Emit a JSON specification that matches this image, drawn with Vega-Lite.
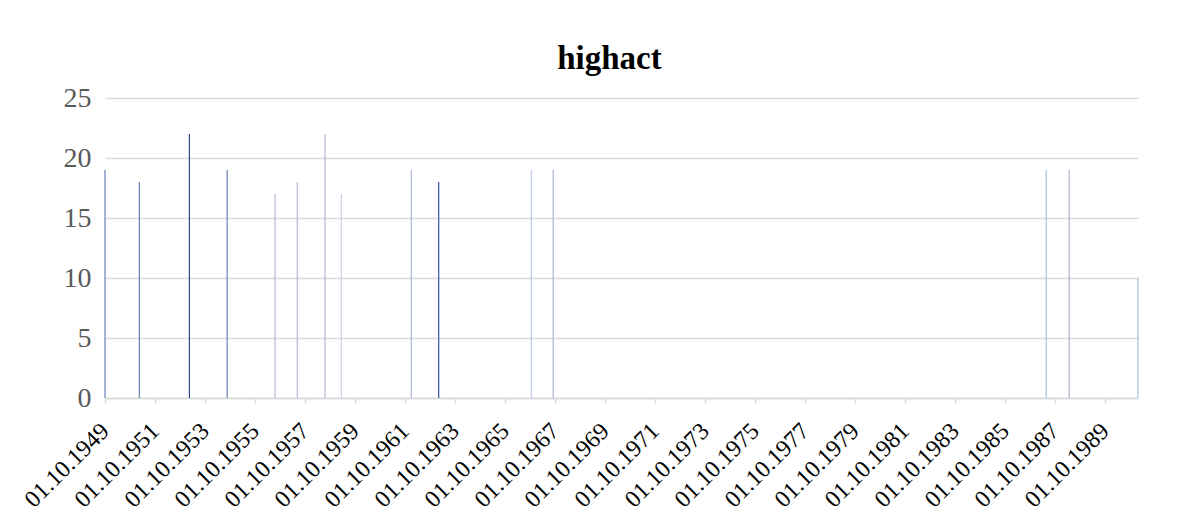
{
  "$schema": "https://vega.github.io/schema/vega-lite/v6.json",
  "width": 1033,
  "height": 300,
  "autosize": {"type": "none"},
  "padding": {"left": 105, "top": 98, "right": 46, "bottom": 133},
  "background": "white",
  "title": {
    "text": "highact",
    "font": "Liberation Serif",
    "fontSize": 33,
    "fontWeight": "bold",
    "color": "#000000",
    "anchor": "middle",
    "offset": 8,
    "dx": -12
  },
  "data": {
    "values": [
      {"pt": 1, "date": "1949-10-01", "highact": 19},
      {"pt": 2, "date": "1951-02-15", "highact": 18},
      {"pt": 3, "date": "1953-02-15", "highact": 22},
      {"pt": 4, "date": "1954-08-20", "highact": 19},
      {"pt": 5, "date": "1956-07-20", "highact": 17},
      {"pt": 6, "date": "1957-06-10", "highact": 18},
      {"pt": 7, "date": "1958-07-20", "highact": 22},
      {"pt": 8, "date": "1959-03-15", "highact": 17},
      {"pt": 9, "date": "1962-01-01", "highact": 19},
      {"pt": 10, "date": "1963-02-05", "highact": 18},
      {"pt": 11, "date": "1966-10-20", "highact": 19},
      {"pt": 12, "date": "1967-09-05", "highact": 19},
      {"pt": 13, "date": "1987-05-25", "highact": 19},
      {"pt": 14, "date": "1988-04-25", "highact": 19},
      {"pt": 15, "date": "1991-01-25", "highact": 10}
    ]
  },
  "mark": {"type": "rule", "strokeWidth": 1.2, "clip": false},
  "encoding": {
    "x": {
      "field": "date",
      "type": "temporal",
      "scale": {"domain": ["1949-10-01", "1991-01-25"]},
      "axis": {
        "title": null,
        "values": [
          {"year": 1949, "month": 10, "date": 1},
          {"year": 1951, "month": 10, "date": 1},
          {"year": 1953, "month": 10, "date": 1},
          {"year": 1955, "month": 10, "date": 1},
          {"year": 1957, "month": 10, "date": 1},
          {"year": 1959, "month": 10, "date": 1},
          {"year": 1961, "month": 10, "date": 1},
          {"year": 1963, "month": 10, "date": 1},
          {"year": 1965, "month": 10, "date": 1},
          {"year": 1967, "month": 10, "date": 1},
          {"year": 1969, "month": 10, "date": 1},
          {"year": 1971, "month": 10, "date": 1},
          {"year": 1973, "month": 10, "date": 1},
          {"year": 1975, "month": 10, "date": 1},
          {"year": 1977, "month": 10, "date": 1},
          {"year": 1979, "month": 10, "date": 1},
          {"year": 1981, "month": 10, "date": 1},
          {"year": 1983, "month": 10, "date": 1},
          {"year": 1985, "month": 10, "date": 1},
          {"year": 1987, "month": 10, "date": 1},
          {"year": 1989, "month": 10, "date": 1}
        ],
        "format": "%d.%m.%Y",
        "labelAngle": -45,
        "labelAlign": "right",
        "labelBaseline": "middle",
        "labelFont": "Liberation Serif",
        "labelFontSize": 24,
        "labelColor": "#000000",
        "labelPadding": 24,
        "labelOverlap": false,
        "labelFlush": false,
        "grid": false,
        "domainColor": "#d9d9d9",
        "domainWidth": 1.5,
        "tickColor": "#d9d9d9",
        "tickSize": 5,
        "tickWidth": 1.5
      }
    },
    "y": {
      "field": "highact",
      "type": "quantitative",
      "scale": {"domain": [0, 25], "nice": false},
      "axis": {
        "title": null,
        "values": [0, 5, 10, 15, 20, 25],
        "labelFont": "Liberation Serif",
        "labelFontSize": 28,
        "labelColor": "#595959",
        "labelPadding": 14,
        "ticks": false,
        "domain": false,
        "gridColor": "#d9d9d9",
        "gridWidth": 1.5
      }
    },
    "y2": {"datum": 0},
    "color": {
      "field": "pt",
      "type": "nominal",
      "legend": null,
      "scale": {
        "domain": [1, 2, 3, 4, 5, 6, 7, 8, 9, 10, 11, 12, 13, 14, 15],
        "range": ["#6b7fb8", "#6b7fb8", "#2e4a8c", "#6b7fb8", "#b0bad2", "#b0bad2", "#b0bad2", "#c8d0e4", "#a9b9dd", "#2f55a8", "#bccbe8", "#a9b5d0", "#a8bfe6", "#a9b5d0", "#a8bfe6"]
      }
    }
  },
  "config": {"view": {"stroke": null}}
}
